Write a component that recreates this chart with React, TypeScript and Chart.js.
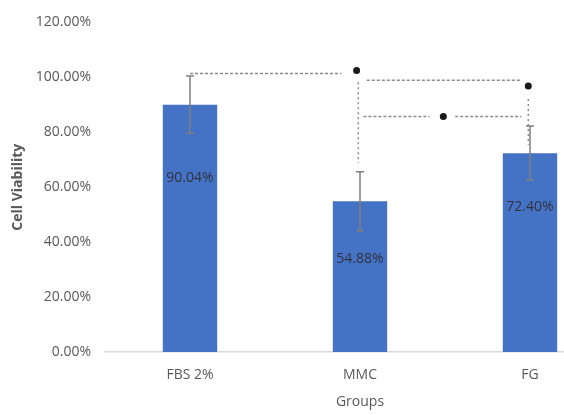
import React, { useEffect, useRef } from "react";
import { Chart, registerables } from "chart.js";

Chart.register(...registerables);

const categories = ["FBS 2%", "MMC", "FG"];
const viability = [90.04, 54.88, 72.4];
const errors = [10.4, 10.7, 9.9];
const valueLabels = ["90.04%", "54.88%", "72.40%"];
const labelAnchor = [63.5, 33.7, 52.7];
const yTicksMax = 120;
const yTickStep = 20;
// significance brackets (category index units, % units)
const sigHLines = [
  [0.0, 0.89, 101.4],
  [1.04, 1.94, 98.9],
  [1.02, 1.41, 85.7],
  [1.56, 1.95, 85.7],
];
const sigVLines = [
  [0.99, 98.2, 68.8],
  [1.99, 92.1, 75.5],
];
const sigStars = [
  [0.98, 102.5],
  [1.99, 96.8],
  [1.49, 85.7],
];

const FONT = "'Open Sans', sans-serif";

const overlayPlugin = {
  id: "overlay",
  afterDatasetsDraw(chart: any) {
    const { ctx, scales } = chart;
    const x = scales.x;
    const y = scales.y;
    ctx.save();
    // error bars
    ctx.strokeStyle = "#7f7f7f";
    ctx.lineWidth = 1.5;
    viability.forEach((v, i) => {
      const px = x.getPixelForValue(i);
      const top = y.getPixelForValue(v + errors[i]);
      const bot = y.getPixelForValue(v - errors[i]);
      ctx.beginPath();
      ctx.moveTo(px, top);
      ctx.lineTo(px, bot);
      ctx.moveTo(px - 4, top);
      ctx.lineTo(px + 4, top);
      ctx.moveTo(px - 4, bot);
      ctx.lineTo(px + 4, bot);
      ctx.stroke();
    });
    // value labels
    ctx.fillStyle = "#333340";
    ctx.font = `14px ${FONT}`;
    ctx.textAlign = "center";
    ctx.textBaseline = "middle";
    viability.forEach((v, i) => {
      ctx.fillText(valueLabels[i], x.getPixelForValue(i), y.getPixelForValue(labelAnchor[i]));
    });
    // significance lines
    ctx.strokeStyle = "#8c8c8c";
    ctx.lineWidth = 1.5;
    ctx.setLineDash([3, 2]);
    sigHLines.forEach(([a, b, v]) => {
      ctx.beginPath();
      ctx.moveTo(x.getPixelForValue(a), y.getPixelForValue(v));
      ctx.lineTo(x.getPixelForValue(b), y.getPixelForValue(v));
      ctx.stroke();
    });
    ctx.setLineDash([2, 3]);
    sigVLines.forEach(([a, v1, v2]) => {
      ctx.beginPath();
      ctx.moveTo(x.getPixelForValue(a), y.getPixelForValue(v1));
      ctx.lineTo(x.getPixelForValue(a), y.getPixelForValue(v2));
      ctx.stroke();
    });
    ctx.setLineDash([]);
    ctx.fillStyle = "#1a1a1a";
    sigStars.forEach(([a, v]) => {
      ctx.beginPath();
      ctx.arc(x.getPixelForValue(a), y.getPixelForValue(v), 3.5, 0, Math.PI * 2);
      ctx.fill();
    });
    ctx.restore();
  },
};

export default function App() {
  const ref = useRef<HTMLCanvasElement>(null);
  useEffect(() => {
    if (!ref.current) return;
    const chart = new Chart(ref.current, {
      type: "bar",
      data: {
        labels: categories,
        datasets: [
          {
            data: viability,
            backgroundColor: "#4472C4",
            barPercentage: 0.32,
            categoryPercentage: 1,
          },
        ],
      },
      options: {
        animation: false,
        responsive: false,
        devicePixelRatio: 1,
        layout: { padding: { top: 17, left: 0, right: 0, bottom: 0 } },
        plugins: { legend: { display: false }, tooltip: { enabled: false } },
        scales: {
          x: {
            grid: { display: false, drawTicks: false },
            border: { display: true, color: "#d9d9d9", width: 1.5 },
            ticks: { color: "#595959", font: { family: FONT, size: 14 }, padding: 15 },
            title: {
              display: true,
              text: "Groups",
              color: "#595959",
              font: { family: FONT, size: 14 },
              padding: { top: 0, bottom: 5 },
            },
            afterFit: (s: any) => {
              s.height = 63;
            },
          },
          y: {
            min: 0,
            max: yTicksMax,
            grid: { display: false, drawTicks: false },
            border: { display: false },
            ticks: {
              stepSize: yTickStep,
              color: "#595959",
              font: { family: FONT, size: 14 },
              padding: 14,
              callback: (v: any) => Number(v).toFixed(2) + "%",
            },
            title: {
              display: true,
              text: "Cell Viability",
              color: "#595959",
              font: { family: FONT, size: 14, weight: "bold" },
              padding: { top: 10, bottom: 0 },
            },
            afterFit: (s: any) => {
              s.width = 105;
            },
          },
        },
      },
      plugins: [overlayPlugin],
    });
    return () => chart.destroy();
  }, []);
  return (
    <div
      style={{
        position: "absolute",
        left: 0,
        top: 0,
        width: 564,
        height: 415,
        overflow: "hidden",
        background: "#fff",
      }}
    >
      <canvas ref={ref} width={615} height={415} style={{ display: "block" }} />
    </div>
  );
}
